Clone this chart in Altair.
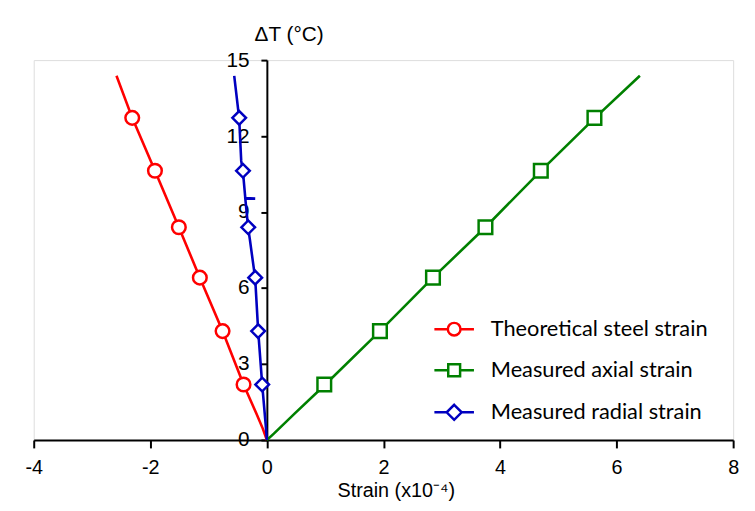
import altair as alt
import pandas as pd

# ---------------- data ----------------
series = ["Theoretical steel strain", "Measured axial strain", "Measured radial strain"]
colors = ["#FF0000", "#008000", "#0000C0"]
marker_shapes = ["circle", "square", "diamond"]
marker_sizes = [190, 190, 480]

# marker positions (dT in °C, strain in x10^-4)
marker_dT = [2.19, 4.30, 6.41, 8.40, 10.63, 12.72]
steel_marker_strain = [-0.40, -0.76, -1.15, -1.51, -1.92, -2.31]
axial_marker_strain = [0.985, 1.94, 2.85, 3.75, 4.70, 5.62]
radial_marker_strain = [-0.08, -0.15, -0.20, -0.32, -0.41, -0.475]

# traced curves
steel_line_strain = [0.0, -0.07, -0.18, -0.40, -0.76, -1.15, -1.51, -1.92, -2.31, -2.58]
steel_line_dT = [0.0, 0.45, 1.05, 2.19, 4.30, 6.41, 8.40, 10.63, 12.72, 14.38]

axial_line_strain = [0.0, 0.12, 0.48, 0.985, 1.94, 2.85, 3.75, 4.70, 5.62, 6.40]
axial_line_dT = [0.0, 0.25, 1.05, 2.15, 4.30, 6.41, 8.40, 10.63, 12.70, 14.38]

radial_line_strain = [0.0, -0.02, -0.08, -0.15, -0.20, -0.29, -0.32, -0.37, -0.20, -0.37, -0.41, -0.44, -0.475, -0.56]
radial_line_dT = [0.0, 0.6, 2.19, 4.34, 6.37, 7.89, 8.36, 9.53, 9.53, 9.55, 10.59, 11.02, 12.70, 14.38]

x_ticks = [-4, -2, 0, 2, 4, 6, 8]
y_ticks = [0, 3, 6, 9, 12, 15]

# legend symbols: short line with the marker in the middle
legend_paths = [
    "M-2.5,0H-0.8M0.8,0H2.5M0.8,0A0.8,0.8,0,1,1,-0.8,0A0.8,0.8,0,1,1,0.8,0Z",
    "M-2.5,0H-0.75M0.75,0H2.5M-0.75,-0.75H0.75V0.75H-0.75Z",
    "M-2.5,0H-0.95M0.95,0H2.5M0,-0.95L0.95,0L0,0.95L-0.95,0Z",
]

# ---------------- tables ----------------
line_rows = []
for name, xs, ys in [
    (series[0], steel_line_strain, steel_line_dT),
    (series[1], axial_line_strain, axial_line_dT),
    (series[2], radial_line_strain, radial_line_dT),
]:
    for i, (xv, yv) in enumerate(zip(xs, ys)):
        line_rows.append({"series": name, "strain": xv, "dT": yv, "idx": i})
line_df = pd.DataFrame(line_rows)

marker_rows = []
for name, xs in [
    (series[0], steel_marker_strain),
    (series[1], axial_marker_strain),
    (series[2], radial_marker_strain),
]:
    for xv, yv in zip(xs, marker_dT):
        marker_rows.append({"series": name, "strain": xv, "dT": yv})
marker_df = pd.DataFrame(marker_rows)

legend_df = pd.DataFrame({"series": series, "strain": [0.0] * 3, "dT": [0.0] * 3})

# ---------------- encodings ----------------
W, H = 707, 384
label_expr = "datum.value < 0 ? '-' + abs(datum.value) : '' + datum.value"
x_enc = alt.X(
    "strain:Q",
    scale=alt.Scale(domain=[-4, 8], nice=False, zero=False),
    axis=alt.Axis(
        values=x_ticks, title="Strain (x10⁻⁴)", grid=False, labelExpr=label_expr,
        labelFlush=False,
        tickSize=8, tickWidth=2, tickColor="black",
        domainColor="black", domainWidth=2,
        labelPadding=10, labelFontSize=20,
        titleX=366, titleY=51, titleBaseline="middle", titleAnchor="start",
        titleAlign="center", titleFontSize=20, titleFontWeight="normal",
    ),
)
y_enc = alt.Y(
    "dT:Q",
    scale=alt.Scale(domain=[0, 15], nice=False),
    axis=alt.Axis(
        values=y_ticks, title="ΔT (°C)", grid=False, labelFlush=False,
        offset=-W * 4 / 12,
        tickSize=6, tickWidth=2, tickColor="black",
        domainColor="black", domainWidth=2,
        labelPadding=12, labelFontSize=21,
        titleAngle=0, titleX=22, titleY=-26, titleAlign="center",
        titleBaseline="middle", titleFontSize=21, titleFontWeight="normal",
    ),
)
color_scale = alt.Scale(domain=series, range=colors)

lines = alt.Chart(line_df).mark_line(strokeWidth=2.6).encode(
    x=x_enc, y=y_enc,
    color=alt.Color("series:N", scale=color_scale, legend=None),
    order=alt.Order("idx:Q"),
)

points = alt.Chart(marker_df).mark_point(
    filled=False, fill="white", fillOpacity=1, opacity=1, strokeWidth=2.5
).encode(
    x=x_enc, y=y_enc,
    color=alt.Color("series:N", scale=color_scale, legend=None),
    shape=alt.Shape("series:N", scale=alt.Scale(domain=series, range=marker_shapes), legend=None),
    size=alt.Size("series:N", scale=alt.Scale(domain=series, range=marker_sizes), legend=None),
)

# stroke colour of each legend symbol, looked up from the series/colour lists
stroke_expr = " : ".join(
    f"datum.value === '{s}' ? '{c}'" for s, c in zip(series, colors)
) + " : 'black'"

legend_def = alt.Legend(
    title=None, orient="none", legendX=414, legendY=261,
    symbolSize=256, symbolStrokeWidth=2.5,
    symbolStrokeColor=alt.ExprRef(expr=stroke_expr),
    symbolOpacity=1,
    labelOffset=26, rowPadding=18.5, padding=0,
    labelFontSize=22, labelFont="Lato", labelColor="black", labelLimit=400,
)

legend_layer = alt.Chart(legend_df).mark_point(
    filled=False, strokeWidth=2.5, opacity=1, size=256
).encode(
    x=x_enc, y=y_enc,
    shape=alt.Shape("series:N", scale=alt.Scale(domain=series, range=legend_paths), legend=legend_def),
).transform_filter("false")

chart = alt.layer(lines, points, legend_layer).resolve_scale(
    shape="independent", size="independent"
).properties(
    width=W, height=H,
    autosize=alt.AutoSizeParams(type="none"),
    padding={"left": 26, "top": 50, "right": 14, "bottom": 60},
).configure_view(stroke=None).configure_axis(
    labelFont="Lato", titleFont="Lato", labelColor="black", titleColor="black",
    titleFontWeight="normal",
).configure(background="white")

chart.save("out.html", embed_options={"renderer": "svg", "actions": False})
